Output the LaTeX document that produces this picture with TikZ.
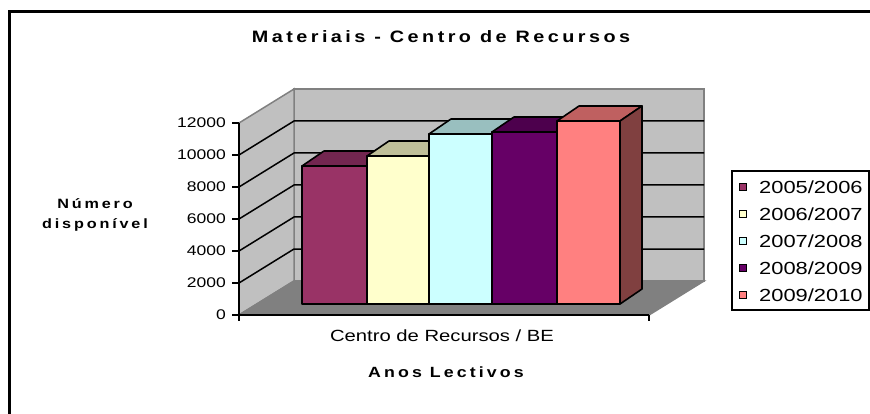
\documentclass[tikz,border=0pt]{standalone}
\usepackage{fontspec}
\setmainfont{Liberation Sans}[FakeStretch=1.25]
\newfontfamily\spacedfont{Liberation Sans}[FakeStretch=1.2,LetterSpace=21]
\definecolor{wallgray}{RGB}{192,192,192}
\definecolor{floorgray}{RGB}{128,128,128}
\definecolor{edgegray}{RGB}{128,128,128}
\definecolor{barA}{HTML}{993366}
\definecolor{barAtop}{HTML}{732650}
\definecolor{barB}{HTML}{FFFFCC}
\definecolor{barBtop}{HTML}{BFBF99}
\definecolor{barC}{HTML}{CCFFFF}
\definecolor{barCtop}{HTML}{99BFBF}
\definecolor{barD}{HTML}{660066}
\definecolor{barDtop}{HTML}{4D004D}
\definecolor{barE}{HTML}{FF8080}
\definecolor{barEtop}{HTML}{BF6060}
\definecolor{barEside}{HTML}{804040}
\tikzset{
  wall/.style={fill=wallgray,draw=edgegray,line width=1.5pt},
  floor/.style={fill=floorgray,draw=edgegray,line width=1.5pt},
  grid/.style={black,line width=1.5pt},
  axis/.style={black,line width=1.5pt},
  barface/.style={draw=black,line width=1.6pt,line join=round},
  ticklabel/.style={inner sep=0pt,anchor=east,font=\fontsize{14}{16}\selectfont},
  keybox/.style={draw=black,line width=0.8pt,minimum size=7pt,inner sep=0pt},
  keytext/.style={inner sep=0pt,anchor=west,font=\fontsize{17.5}{19}\selectfont},
  chartframe/.style={black,line width=3pt}
}
\begin{document}
\begin{tikzpicture}[x=1pt,y=-1pt]
    \useasboundingbox (0,0) rectangle (870,414);
    \draw[chartframe] (9,11.5) rectangle (880,430);
    % title
    \node[font=\spacedfont\bfseries\fontsize{16.5}{18}\selectfont] (title) at (441,37) {Materiais - Centro de Recursos};
    % walls and floor
    \filldraw[wall] (294,89) rectangle (704,281);
    \filldraw[wall] (239,123) -- (294,89) -- (294,281) -- (239,315) -- cycle;
    \filldraw[floor] (239,315) -- (649,315) -- (704,281) -- (294,281) -- cycle;
    \foreach \v in {1,...,5}
        \draw[grid] (239,315-32*\v) -- (294,281-32*\v) -- (704,281-32*\v);
    % axes
    \draw[axis] (239,123) -- (239,315) -- (649,315);
    \foreach \v/\lab in {0/0,1/2000,2/4000,3/6000,4/8000,5/10000,6/12000}{
        \draw[axis] (232,315-32*\v) -- (239,315-32*\v);
        \node[ticklabel] (tick\v) at (226,315-32*\v) {\lab};
    }
    \draw[axis] (239,315) -- (239,321);
    \draw[axis] (649,315) -- (649,321);
    % bars
    \foreach \xl/\xr/\yt/\cf/\ct/\cs in {302/367/166/barA/barAtop/barAtop,367/429/156/barB/barBtop/barBtop,429/492/134/barC/barCtop/barCtop,492/557/132/barD/barDtop/barDtop,557/620/121/barE/barEtop/barEside}{
        \filldraw[barface,fill=\ct] (\xl,\yt) -- (\xr,\yt) -- (\xr+22,\yt-15) -- (\xl+22,\yt-15) -- cycle;
        \filldraw[barface,fill=\cs] (\xr,\yt) -- (\xr+22,\yt-15) -- (\xr+22,289) -- (\xr,304) -- cycle;
        \filldraw[barface,fill=\cf] (\xl,\yt) rectangle (\xr,304);
    }
    % axis titles
    \node[font=\spacedfont\bfseries\fontsize{13.5}{20}\selectfont,align=center] (ytitle) at (95,215) {Número\\disponível};
    \node[font=\fontsize{16.2}{18}\selectfont] (category) at (442,336) {Centro de Recursos / BE};
    \node[font=\spacedfont\bfseries\fontsize{14.8}{17}\selectfont] (xtitle) at (446,372) {Anos Lectivos};
    % legend
    \draw[black,line width=1.5pt] (732,171) rectangle (869,310);
    \foreach \c/\yy/\lab [count=\i] in {barA/187/2005\slash 2006,barB/214/2006\slash 2007,barC/241/2007\slash 2008,barD/268/2008\slash 2009,barE/295/2009\slash 2010}{
        \node[keybox,fill=\c] (key\i) at (743,\yy) {};
        \node[keytext] (keytext\i) at (759,\yy) {\lab};
    }
\end{tikzpicture}
\end{document}
